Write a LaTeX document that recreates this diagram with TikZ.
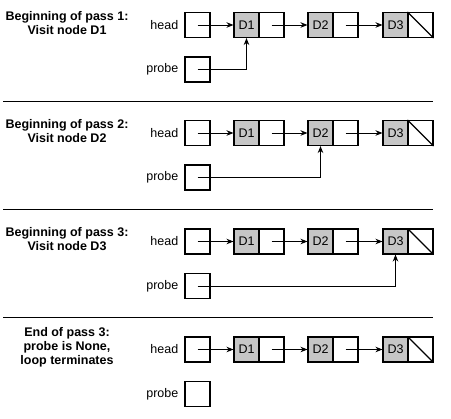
\documentclass[tikz,border=0pt]{standalone}
\usepackage{fontspec}
\setmainfont{Liberation Sans}
\usetikzlibrary{arrows.meta}
\tikzset{
  cell/.style={draw, rectangle, minimum width=25pt, minimum height=25pt, inner sep=0pt, line width=1.1pt, font=\fontsize{12.5}{14}\selectfont},
  datacell/.style={cell, fill=gray!45},
  ptr/.style={line width=0.9pt, -{Stealth[length=7pt,width=5.5pt]}},
  lbl/.style={anchor=east, inner sep=0pt, font=\fontsize{12.5}{14}\selectfont},
  ttl/.style={align=center, inner sep=0pt, font=\fontsize{12.5}{14}\selectfont\bfseries},
  sep/.style={line width=1.3pt}
}
\begin{document}
\begin{tikzpicture}[x=1pt,y=-1pt]
\useasboundingbox (0,0) rectangle (451,419);
\foreach \i/\y/\t in {1/25/{Beginning of pass 1:\\Visit node D1},
                      2/133/{Beginning of pass 2:\\Visit node D2},
                      3/241.5/{Beginning of pass 3:\\Visit node D3},
                      4/349.5/{End of pass 3:\\probe is None,\\loop terminates}}{
  \node[ttl] (t\i) at (67,\y-2) {\t};
  \node[lbl] (hl\i) at (178.5,\y) {head};
  \node[lbl] (pl\i) at (178.5,\y+44.5) {probe};
  \node[cell] (h\i) at (197.5,\y) {};
  \node[cell] (p\i) at (197.5,\y+44.5) {};
  \node[datacell] (da\i) at (246.5,\y) {D1};
  \node[cell] (pa\i) at (271.5,\y) {};
  \node[datacell] (db\i) at (320.5,\y) {D2};
  \node[cell] (pb\i) at (345.5,\y) {};
  \node[datacell] (dc\i) at (395.5,\y) {D3};
  \node[cell] (pc\i) at (420.5,\y) {};
  \draw[line width=1.1pt] (pc\i.north west) -- (pc\i.south east);
  \draw[ptr] (h\i.center) -- (da\i.west);
  \draw[ptr] (pa\i.center) -- (db\i.west);
  \draw[ptr] (pb\i.center) -- (dc\i.west);
}
\draw[ptr] (p1.center) -| (da1.south);
\draw[ptr] (p2.center) -| (db2.south);
\draw[ptr] (p3.center) -| (dc3.south);
\draw[sep] (3,101.5) -- (433,101.5);
\draw[sep] (3,209.5) -- (433,209.5);
\draw[sep] (3,317.5) -- (433,317.5);
\end{tikzpicture}
\end{document}
